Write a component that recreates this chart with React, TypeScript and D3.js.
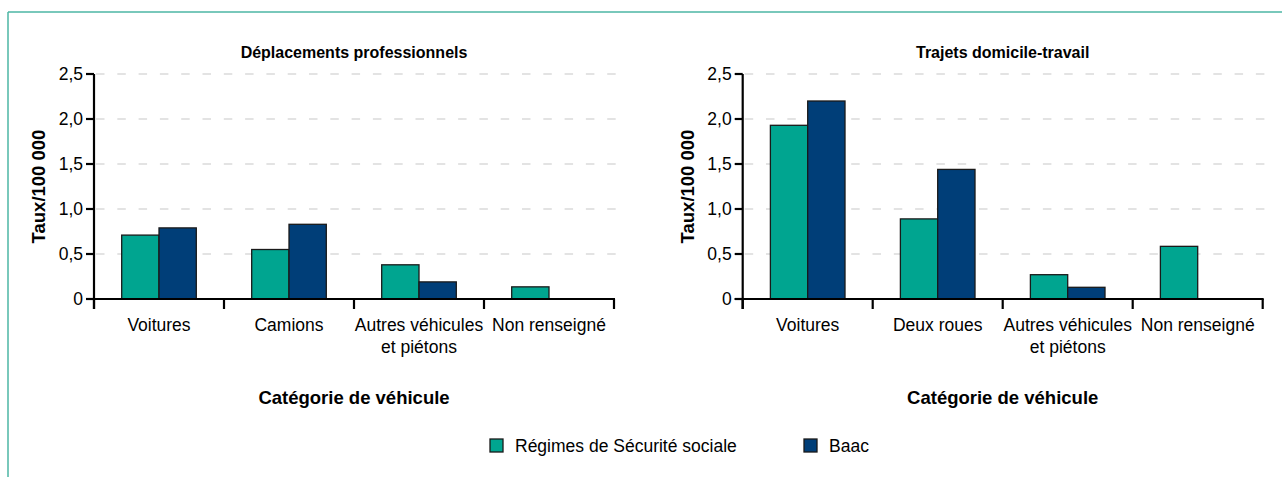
import React from "react";
import * as d3 from "d3";

const series = ["Régimes de Sécurité sociale", "Baac"];
const colors = ["#00A590", "#003E78"];

const catsPro = [["Voitures"], ["Camions"], ["Autres véhicules", "et piétons"], ["Non renseigné"]];
const proRegimes = [0.71, 0.55, 0.38, 0.135];
const proBaac: (number | null)[] = [0.79, 0.83, 0.19, null];

const catsDom = [["Voitures"], ["Deux roues"], ["Autres véhicules", "et piétons"], ["Non renseigné"]];
const domRegimes = [1.93, 0.89, 0.27, 0.585];
const domBaac: (number | null)[] = [2.2, 1.44, 0.13, null];

const yTicks = [0, 0.5, 1, 1.5, 2, 2.5];
const yTickLabels = ["0", "0,5", "1,0", "1,5", "2,0", "2,5"];

const FONT = "'Liberation Sans', Arial, sans-serif";
const FS = 17.5;

function Panel({ title, cats, a, b, x0, x1 }: { title: string; cats: string[][]; a: number[]; b: (number | null)[]; x0: number; x1: number }) {
  const y = d3.scaleLinear().domain([0, 2.5]).range([299, 74]);
  const keys = cats.map((c) => c.join(" "));
  const xb = d3.scaleBand<string>().domain(keys).range([x0, x1]).padding(0);
  const bw = xb.bandwidth();
  const xs = d3.scaleBand<string>().domain(series).range([bw * 0.213, bw * 0.787]).padding(0);
  const mid = (x0 + x1) / 2;
  const vals = [a, b];
  return (
    <g>
      <text x={mid} y={58} textAnchor="middle" fontWeight="bold" fontSize={16} fontFamily={FONT}>{title}</text>
      {yTicks.filter((t) => t > 0).map((t) => (
        <line key={t} x1={x0 + 2} x2={x1 + 2} y1={y(t)} y2={y(t)} stroke="#c8c8c8" strokeWidth={1.2} strokeDasharray="8.5 12.8" />
      ))}
      {keys.map((k, i) =>
        series.map((s, j) => {
          const v = vals[j][i];
          if (v == null) return null;
          return (
            <rect key={k + s} x={(xb(k) as number) + (xs(s) as number)} y={y(v)} width={xs.bandwidth()} height={y(0) - y(v)} fill={colors[j]} stroke="#1a1a1a" strokeWidth={1.3} />
          );
        })
      )}
      <line x1={x0} x2={x0} y1={y(2.5)} y2={y(0) + 10} stroke="#000" strokeWidth={2.2} />
      {yTicks.map((t, i) => (
        <g key={t}>
          <line x1={x0 - 8} x2={x0} y1={y(t)} y2={y(t)} stroke="#000" strokeWidth={2.2} />
          <text x={x0 - 11} y={y(t)} dy="0.36em" textAnchor="end" fontSize={FS} fontFamily={FONT}>{yTickLabels[i]}</text>
        </g>
      ))}
      <line x1={x0 - 8} x2={x1 + 1} y1={y(0)} y2={y(0)} stroke="#000" strokeWidth={2.2} />
      {[...keys.map((k) => xb(k) as number), x1].map((xx, i) => (
        <line key={i} x1={xx} x2={xx} y1={y(0)} y2={y(0) + 10} stroke="#000" strokeWidth={2.2} />
      ))}
      {cats.map((c, i) => (
        <text key={i} textAnchor="middle" fontSize={FS} fontFamily={FONT}>
          {c.map((line, li) => (
            <tspan key={li} x={(xb(keys[i]) as number) + bw / 2} y={331 + li * 22}>{line}</tspan>
          ))}
        </text>
      ))}
      <text x={mid} y={404} textAnchor="middle" fontWeight="bold" fontSize={18.5} fontFamily={FONT}>Catégorie de véhicule</text>
      <text transform={`translate(${x0 - 49},${(y(0) + y(2.5)) / 2}) rotate(-90)`} textAnchor="middle" fontWeight="bold" fontSize={18.5} fontFamily={FONT}>Taux/100 000</text>
    </g>
  );
}

export default function App() {
  return (
    <svg width={1282} height={477} style={{ position: "absolute", left: 0, top: 0, background: "#fff" }}>
      <rect x={0} y={0} width={1282} height={477} fill="#fff" />
      <line x1={8} x2={1282} y1={12} y2={12} stroke="#4db6a5" strokeWidth={1.5} />
      <line x1={8} x2={8} y1={12} y2={477} stroke="#4db6a5" strokeWidth={1.5} />
      <Panel title="Déplacements professionnels" cats={catsPro} a={proRegimes} b={proBaac} x0={94} x1={614} />
      <Panel title="Trajets domicile-travail" cats={catsDom} a={domRegimes} b={domBaac} x0={742.7} x1={1262.7} />
      <rect x={490} y={439} width={13} height={13} fill={colors[0]} stroke="#1a1a1a" strokeWidth={1.3} />
      <text x={515} y={452} fontSize={FS} fontFamily={FONT}>{series[0]}</text>
      <rect x={804} y={439} width={13} height={13} fill={colors[1]} stroke="#1a1a1a" strokeWidth={1.3} />
      <text x={829} y={452} fontSize={FS} fontFamily={FONT}>{series[1]}</text>
    </svg>
  );
}
